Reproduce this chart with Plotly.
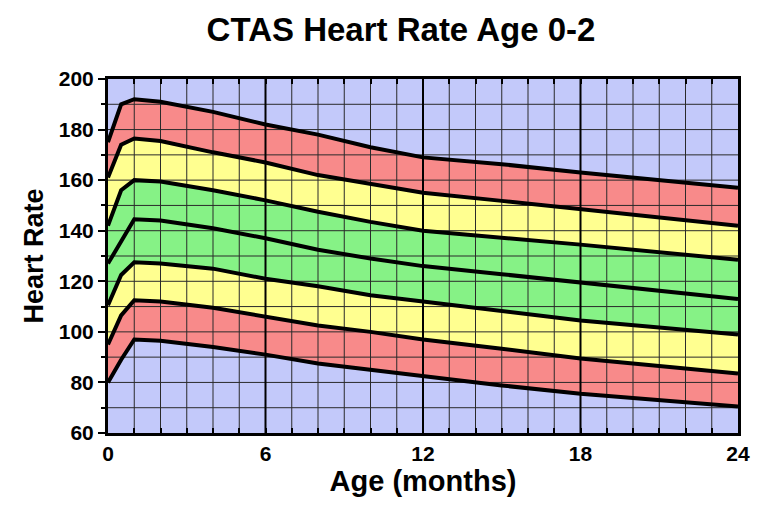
import plotly.graph_objects as go

# ---- data ----
age_months = [0, 0.5, 1, 2, 4, 6, 8, 10, 12, 15, 18, 24]
line1 = [175, 190, 192, 191, 187, 182, 178, 173, 169, 166.3, 163, 157]
line2 = [161, 174, 176.5, 175.5, 171, 167, 162, 158.5, 155, 151.8, 148.5, 142]
line3 = [142, 156, 160, 159.5, 156, 152, 147.5, 143.5, 140, 137.3, 134.5, 128.5]
line4 = [127, 136, 144.5, 144, 141, 137, 132.5, 129, 126, 122.8, 119.5, 113]
line5 = [110.5, 122.5, 127.5, 127, 125, 121, 118, 114.5, 112, 108.3, 104.5, 99]
line6 = [95, 106.5, 112.5, 112, 109.5, 106, 102.5, 100, 97, 93.3, 89.5, 83.5]
line7 = [80, 89, 97, 96.5, 94, 91, 87.5, 85, 82.5, 78.8, 75.5, 70.5]

x_ticks = list(range(0, 25))
x_labels = ["0", "6", "12", "18", "24"]
y_ticks = [60, 80, 100, 120, 140, 160, 180, 200]
y_grid = list(range(60, 201, 10))
x_major = [6, 12, 18]

# band colours bottom -> top
band_colors = ["#F88A8A", "#FFFF90", "#86F286", "#86F286", "#FFFF90", "#F88A8A"]
bg_color = "#C3C9FA"

lines_bottom_up = [line7, line6, line5, line4, line3, line2, line1]

fig = go.Figure()

# fills
fig.add_trace(go.Scatter(x=age_months, y=line7, mode="lines",
                         line=dict(width=0), showlegend=False, hoverinfo="skip"))
for ln, col in zip(lines_bottom_up[1:], band_colors):
    fig.add_trace(go.Scatter(x=age_months, y=ln, mode="lines", fill="tonexty",
                             fillcolor=col, line=dict(width=0),
                             showlegend=False, hoverinfo="skip"))

# grid (drawn above fills)
ymin, ymax = 60, 200
gx, gy = [], []
for xv in x_ticks:
    if xv in x_major or xv in (0, 24):
        continue
    gx += [xv, xv, None]
    gy += [ymin, ymax, None]
for yv in y_grid:
    if yv in (ymin, ymax):
        continue
    gx += [0, 24, None]
    gy += [yv, yv, None]
fig.add_trace(go.Scatter(x=gx, y=gy, mode="lines", line=dict(color="#2a2a2a", width=1),
                         showlegend=False, hoverinfo="skip"))
mx, my = [], []
for xv in x_major:
    mx += [xv, xv, None]
    my += [ymin, ymax, None]
fig.add_trace(go.Scatter(x=mx, y=my, mode="lines", line=dict(color="black", width=2),
                         showlegend=False, hoverinfo="skip"))

# black boundary lines
for ln in lines_bottom_up:
    fig.add_trace(go.Scatter(x=age_months, y=ln, mode="lines",
                             line=dict(color="black", width=4),
                             showlegend=False))

font_family = "Liberation Sans, Arial, sans-serif"

fig.update_layout(
    width=755, height=499,
    margin=dict(l=100, r=25, t=71, b=74),
    paper_bgcolor="white",
    plot_bgcolor=bg_color,
    font=dict(family=font_family, color="black"),
    title=dict(text="<b>CTAS Heart Rate Age 0-2</b>", x=(401 - 8) / 755, xref="container",
               xanchor="center", y=1 - 21 / 499, yanchor="middle",
               font=dict(size=33, family=font_family, color="black")),
)
fig.update_xaxes(
    range=[0, 24], showgrid=False, zeroline=False,
    tickmode="array", tickvals=x_ticks,
    ticktext=[str(v) if str(v) in x_labels else "" for v in x_ticks],
    ticks="inside", ticklen=5, tickwidth=2, tickcolor="black",
    showline=True, linewidth=3, linecolor="black", mirror="allticks",
    tickfont=dict(size=21, family=font_family, weight="bold"),
    title=dict(text="<b>Age (months)</b>", font=dict(size=29, family=font_family), standoff=2),
)
fig.update_yaxes(
    range=[60, 200], showgrid=False, zeroline=False,
    tickmode="array", tickvals=y_ticks,
    ticks="outside", ticklen=7, tickwidth=2, tickcolor="black",
    minor=dict(tickvals=y_grid, ticks="outside", ticklen=4, tickwidth=2, tickcolor="black"),
    showline=True, linewidth=3, linecolor="black", mirror=True,
    tickfont=dict(size=21, family=font_family, weight="bold"),
    title=dict(text="<b>Heart Rate</b>", font=dict(size=27, family=font_family), standoff=8),
)

fig.write_html("out.html")
